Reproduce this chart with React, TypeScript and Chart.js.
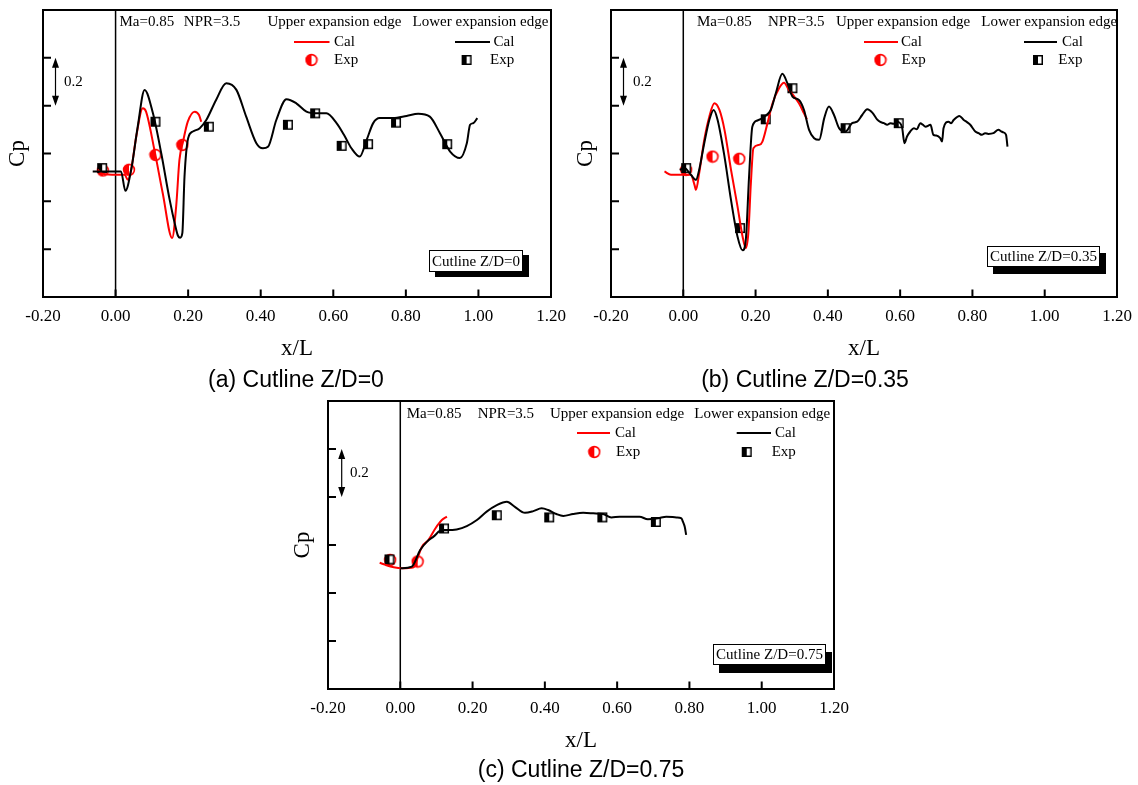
import React, { useEffect, useRef } from "react";
import { Chart, registerables } from "chart.js";

Chart.register(...registerables);

// ---------------- axis ticks ----------------
const X_MIN = -0.2;
const X_MAX = 1.2;
const X_STEP = 0.2;
const Y_TICKS = [-0.6, -0.4, -0.2, 0, 0.2, 0.4, 0.6];

// ---------------- (a) Cutline Z/D=0 ----------------
const aLowerCal: number[][] = [
  [-0.063, -0.075], [0.015, -0.075], [0.027, -0.156], [0.043, -0.068], [0.061, 0.112], [0.080, 0.266],
  [0.103, 0.168], [0.126, 0.0], [0.149, -0.193], [0.165, -0.305], [0.172, -0.344], [0.178, -0.352],
  [0.184, -0.333], [0.190, -0.096], [0.200, 0.064], [0.213, 0.092], [0.232, 0.106], [0.250, 0.140],
  [0.277, 0.224], [0.305, 0.294], [0.333, 0.266], [0.360, 0.154], [0.388, 0.043], [0.406, 0.022],
  [0.420, 0.028], [0.443, 0.140], [0.471, 0.227], [0.498, 0.210], [0.526, 0.175], [0.554, 0.168],
  [0.581, 0.168], [0.609, 0.127], [0.632, 0.071], [0.650, 0.022], [0.673, -0.013], [0.692, 0.057],
  [0.710, 0.127], [0.728, 0.148], [0.765, 0.148], [0.802, 0.157], [0.834, 0.166], [0.866, 0.154],
  [0.894, 0.085], [0.922, 0.008], [0.949, -0.019], [0.968, 0.043], [0.977, 0.120], [0.986, 0.127],
  [0.997, 0.148],
];
const aUpperCal: number[][] = [
  [-0.049, -0.068], [-0.035, -0.085], [0.002, -0.089], [0.025, -0.089], [0.034, -0.110], [0.043, -0.068],
  [0.057, 0.071], [0.075, 0.189], [0.084, 0.175], [0.107, 0.015], [0.130, -0.166], [0.156, -0.353],
  [0.167, -0.221], [0.176, -0.027], [0.186, 0.050], [0.199, 0.133], [0.218, 0.175], [0.230, 0.161],
  [0.236, 0.133],
];
const aUpperExp: number[][] = [[-0.035, -0.071], [0.037, -0.068], [0.110, -0.006], [0.184, 0.036]];
const aLowerExp: number[][] = [
  [-0.037, -0.061], [0.110, 0.133], [0.257, 0.112], [0.475, 0.120], [0.550, 0.168],
  [0.623, 0.032], [0.696, 0.039], [0.773, 0.129], [0.914, 0.039],
];

// ---------------- (b) Cutline Z/D=0.35 ----------------
const bLowerCal: number[][] = [
  [-0.010, -0.068], [0.003, -0.061], [0.021, -0.089], [0.035, -0.110], [0.044, -0.068], [0.058, 0.043],
  [0.072, 0.140], [0.084, 0.182], [0.095, 0.140], [0.114, -0.013], [0.132, -0.194], [0.150, -0.347],
  [0.164, -0.405], [0.173, -0.360], [0.182, -0.096], [0.191, 0.112], [0.205, 0.138], [0.224, 0.154],
  [0.242, 0.182], [0.256, 0.252], [0.274, 0.333], [0.288, 0.294], [0.302, 0.238], [0.320, 0.224],
  [0.334, 0.182], [0.348, 0.099], [0.362, 0.064], [0.376, 0.057], [0.390, 0.148], [0.403, 0.196],
  [0.417, 0.161], [0.431, 0.106], [0.449, 0.092], [0.467, 0.127], [0.481, 0.133], [0.495, 0.161],
  [0.509, 0.185], [0.523, 0.171], [0.536, 0.143], [0.545, 0.132], [0.555, 0.127], [0.564, 0.120],
  [0.573, 0.127], [0.582, 0.124], [0.591, 0.133], [0.605, 0.112], [0.612, 0.043], [0.619, 0.071],
  [0.628, 0.092], [0.638, 0.106], [0.646, 0.101], [0.656, 0.127], [0.663, 0.120], [0.670, 0.112],
  [0.684, 0.120], [0.692, 0.078], [0.700, 0.075], [0.711, 0.064], [0.716, 0.050], [0.720, 0.106],
  [0.734, 0.133], [0.741, 0.127], [0.748, 0.140], [0.764, 0.157], [0.776, 0.140], [0.785, 0.131],
  [0.794, 0.120], [0.808, 0.092], [0.817, 0.085], [0.826, 0.078], [0.835, 0.085], [0.844, 0.082],
  [0.858, 0.085], [0.872, 0.099], [0.880, 0.092], [0.886, 0.088], [0.893, 0.078], [0.897, 0.029],
];
const bUpperCal: number[][] = [
  [-0.052, -0.075], [-0.034, -0.089], [0.003, -0.089], [0.021, -0.089], [0.031, -0.131], [0.035, -0.152],
  [0.044, -0.082], [0.058, 0.057], [0.072, 0.154], [0.086, 0.210], [0.100, 0.182], [0.114, 0.099],
  [0.132, -0.068], [0.150, -0.221], [0.164, -0.347], [0.173, -0.395], [0.180, -0.333], [0.187, -0.124],
  [0.194, 0.022], [0.210, 0.036], [0.219, 0.050], [0.233, 0.127], [0.247, 0.210], [0.265, 0.273],
  [0.279, 0.296], [0.292, 0.266], [0.307, 0.238], [0.320, 0.210], [0.334, 0.168], [0.342, 0.143],
];
const bUpperExp: number[][] = [[0.008, -0.068], [0.081, -0.013], [0.155, -0.022]];
const bLowerExp: number[][] = [
  [0.008, -0.061], [0.157, -0.312], [0.228, 0.143], [0.302, 0.273], [0.449, 0.106], [0.596, 0.127],
];

// ---------------- (c) Cutline Z/D=0.75 ----------------
const cLowerCal: number[][] = [
  [0.000, -0.097], [0.032, -0.090], [0.055, -0.021], [0.074, 0.014], [0.092, 0.035], [0.115, 0.062],
  [0.129, 0.062], [0.156, 0.065], [0.184, 0.079], [0.212, 0.104], [0.239, 0.139], [0.267, 0.166],
  [0.295, 0.180], [0.317, 0.159], [0.345, 0.134], [0.368, 0.141], [0.391, 0.153], [0.409, 0.146],
  [0.432, 0.129], [0.451, 0.121], [0.478, 0.129], [0.506, 0.134], [0.534, 0.132], [0.561, 0.129],
  [0.584, 0.115], [0.607, 0.118], [0.635, 0.118], [0.662, 0.118], [0.685, 0.107], [0.713, 0.111],
  [0.736, 0.118], [0.764, 0.115], [0.778, 0.111], [0.782, 0.097], [0.787, 0.076], [0.791, 0.042],
];
const cUpperCal: number[][] = [
  [-0.057, -0.074], [-0.041, -0.083], [-0.018, -0.093], [0.005, -0.097], [0.037, -0.093], [0.046, -0.062],
  [0.060, -0.007], [0.078, 0.021], [0.097, 0.069], [0.115, 0.104], [0.129, 0.118],
];
const cUpperExp: number[][] = [[-0.028, -0.062], [0.048, -0.069]];
const cLowerExp: number[][] = [
  [-0.030, -0.060], [0.121, 0.069], [0.267, 0.124], [0.412, 0.115], [0.559, 0.115], [0.707, 0.096],
];

// ---------------- text ----------------
const TXT_MA = "Ma=0.85";
const TXT_NPR = "NPR=3.5";
const TXT_UPPER = "Upper expansion edge";
const TXT_LOWER = "Lower expansion edge";
const TXT_CAL = "Cal";
const TXT_EXP = "Exp";
const TXT_X = "x/L";
const TXT_Y = "Cp";
const TXT_SCALE = "0.2";

const RED = "#ff0000";
const SERIF = '"Liberation Serif", "Times New Roman", serif';
const SANS = '"Liberation Sans", Arial, sans-serif';

type Panel = {
  id: string;
  canvas: { left: number; top: number; width: number; height: number };
  frame: { left: number; right: number; top: number; bottom: number };
  lowerCal: number[][];
  upperCal: number[][];
  lowerExp: number[][];
  upperExp: number[][];
  caption: string;
  captionX: number;
  captionY: number;
  cutline: string;
  box: { x: number; y: number; w: number; h: number; dx: number; dy: number };
  legend: {
    rowY: number[];
    maX: number; nprX: number; upperX: number; lowerX: number;
    redLine: number[]; redCalX: number; blackLine: number[]; blackCalX: number;
    redMkX: number; redExpX: number; blackMkX: number; blackExpX: number;
  };
  arrowX: number;
  arrowLabelX: number;
};

const PANELS: Panel[] = [
  {
    id: "a",
    canvas: { left: 0, top: 0, width: 570, height: 395 },
    frame: { left: 43, right: 551, top: 10, bottom: 297 },
    lowerCal: aLowerCal, upperCal: aUpperCal, lowerExp: aLowerExp, upperExp: aUpperExp,
    caption: "(a) Cutline Z/D=0", captionX: 296, captionY: 381,
    cutline: "Cutline Z/D=0",
    box: { x: 429, y: 250, w: 94, h: 22, dx: 6, dy: 5 },
    legend: {
      rowY: [22, 42, 60],
      maX: 119.5, nprX: 183.8, upperX: 267.4, lowerX: 412.6,
      redLine: [294, 329.5], redCalX: 334, blackLine: [455, 490], blackCalX: 493.5,
      redMkX: 311.5, redExpX: 334, blackMkX: 466.6, blackExpX: 490,
    },
    arrowX: 55.5, arrowLabelX: 64,
  },
  {
    id: "b",
    canvas: { left: 570, top: 0, width: 568, height: 395 },
    frame: { left: 611, right: 1117, top: 10, bottom: 297 },
    lowerCal: bLowerCal, upperCal: bUpperCal, lowerExp: bLowerExp, upperExp: bUpperExp,
    caption: "(b) Cutline Z/D=0.35", captionX: 805, captionY: 381,
    cutline: "Cutline Z/D=0.35",
    box: { x: 987, y: 246, w: 113, h: 21, dx: 6, dy: 7 },
    legend: {
      rowY: [22, 42, 60],
      maX: 697, nprX: 768, upperX: 836, lowerX: 981.3,
      redLine: [864, 898], redCalX: 901, blackLine: [1024, 1057], blackCalX: 1062,
      redMkX: 880.5, redExpX: 901.6, blackMkX: 1038, blackExpX: 1058.3,
    },
    arrowX: 623.5, arrowLabelX: 633,
  },
  {
    id: "c",
    canvas: { left: 285, top: 395, width: 570, height: 390 },
    frame: { left: 328, right: 834, top: 401, bottom: 689 },
    lowerCal: cLowerCal, upperCal: cUpperCal, lowerExp: cLowerExp, upperExp: cUpperExp,
    caption: "(c) Cutline Z/D=0.75", captionX: 581, captionY: 771,
    cutline: "Cutline Z/D=0.75",
    box: { x: 713, y: 644, w: 113, h: 21, dx: 6, dy: 8 },
    legend: {
      rowY: [414.5, 433, 452],
      maX: 406.7, nprX: 477.7, upperX: 550, lowerX: 694.3,
      redLine: [577, 610], redCalX: 615, blackLine: [736.7, 771], blackCalX: 775,
      redMkX: 594.3, redExpX: 616, blackMkX: 746.7, blackExpX: 771.7,
    },
    arrowX: 341.7, arrowLabelX: 350,
  },
];

let circleImg: HTMLCanvasElement | null = null;
let squareImg: HTMLCanvasElement | null = null;

function getCircle() {
  if (circleImg) return circleImg;
  const c = document.createElement("canvas");
  c.width = 14; c.height = 14;
  const g = c.getContext("2d")!;
  const cx = 7, cy = 7, r = 5.4;
  g.fillStyle = "#fff";
  g.beginPath(); g.arc(cx, cy, r, 0, Math.PI * 2); g.fill();
  g.fillStyle = RED;
  g.beginPath(); g.moveTo(cx, cy); g.arc(cx, cy, r, Math.PI / 2, Math.PI * 1.5); g.closePath(); g.fill();
  g.strokeStyle = RED; g.lineWidth = 1.6;
  g.beginPath(); g.arc(cx, cy, r, 0, Math.PI * 2); g.stroke();
  circleImg = c;
  return c;
}

function getSquare() {
  if (squareImg) return squareImg;
  const c = document.createElement("canvas");
  c.width = 12; c.height = 12;
  const g = c.getContext("2d")!;
  g.fillStyle = "#fff"; g.fillRect(1, 1, 10, 10);
  g.fillStyle = "#000"; g.fillRect(1, 1, 5, 10);
  g.strokeStyle = "#000"; g.lineWidth = 1.5; g.strokeRect(1.75, 1.75, 8.5, 8.5);
  squareImg = c;
  return c;
}

function toPts(arr: number[][]) {
  return arr.map((p) => ({ x: p[0], y: p[1] }));
}

function fmtTick(v: any) {
  const n = Number(v);
  return (Math.abs(n) < 1e-9 ? 0 : n).toFixed(2);
}

function makeDeco(p: Panel) {
  const ox = p.canvas.left;
  const oy = p.canvas.top;
  const X = (v: number) => v - ox;
  const Y = (v: number) => v - oy;
  return {
    id: "deco" + p.id,
    beforeDatasetsDraw(chart: any) {
      const { ctx, chartArea: ca, scales } = chart;
      const x0 = scales.x.getPixelForValue(0);
      ctx.save();
      ctx.strokeStyle = "#000";
      ctx.lineWidth = 1.5;
      ctx.beginPath();
      ctx.moveTo(x0, ca.top);
      ctx.lineTo(x0, ca.bottom);
      ctx.stroke();
      ctx.restore();
    },
    afterDraw(chart: any) {
      const { ctx, chartArea: ca, scales } = chart;
      const xs = scales.x;
      const ys = scales.y;
      ctx.save();
      // frame
      ctx.strokeStyle = "#000";
      ctx.lineWidth = 2;
      ctx.strokeRect(ca.left, ca.top, ca.right - ca.left, ca.bottom - ca.top);
      // inward ticks
      ctx.lineWidth = 2;
      ctx.beginPath();
      xs.ticks.forEach((t: any) => {
        const px = xs.getPixelForValue(t.value);
        ctx.moveTo(px, ca.bottom);
        ctx.lineTo(px, ca.bottom - 7.5);
      });
      Y_TICKS.forEach((v) => {
        const py = ys.getPixelForValue(v);
        ctx.moveTo(ca.left, py);
        ctx.lineTo(ca.left + 8, py);
      });
      ctx.stroke();

      // axis titles
      ctx.fillStyle = "#000";
      ctx.font = `23px ${SERIF}`;
      ctx.textAlign = "center";
      ctx.textBaseline = "middle";
      ctx.fillText(TXT_X, (ca.left + ca.right) / 2, ca.bottom + 52);
      ctx.save();
      ctx.translate(ca.left - 25, (ca.top + ca.bottom) / 2);
      ctx.rotate(-Math.PI / 2);
      ctx.fillText(TXT_Y, 0, 0);
      ctx.restore();

      // caption
      ctx.font = `23px ${SANS}`;
      ctx.fillText(p.caption, X(p.captionX), Y(p.captionY));

      // scale arrow
      const yA = ys.getPixelForValue(0.4);
      const yB = ys.getPixelForValue(0.2);
      const ax = X(p.arrowX);
      ctx.lineWidth = 1.2;
      ctx.beginPath();
      ctx.moveTo(ax, yA + 6);
      ctx.lineTo(ax, yB - 6);
      ctx.stroke();
      ctx.beginPath();
      ctx.moveTo(ax, yA);
      ctx.lineTo(ax - 3.5, yA + 10);
      ctx.lineTo(ax + 3.5, yA + 10);
      ctx.closePath();
      ctx.moveTo(ax, yB);
      ctx.lineTo(ax - 3.5, yB - 10);
      ctx.lineTo(ax + 3.5, yB - 10);
      ctx.closePath();
      ctx.fill();
      ctx.font = `15px ${SERIF}`;
      ctx.textAlign = "left";
      ctx.fillText(TXT_SCALE, X(p.arrowLabelX), (yA + yB) / 2);

      // legend
      const L = p.legend;
      const r0 = Y(L.rowY[0]);
      const r1 = Y(L.rowY[1]);
      const r2 = Y(L.rowY[2]);
      ctx.fillText(TXT_MA, X(L.maX), r0);
      ctx.fillText(TXT_NPR, X(L.nprX), r0);
      ctx.fillText(TXT_UPPER, X(L.upperX), r0);
      ctx.fillText(TXT_LOWER, X(L.lowerX), r0);
      ctx.fillText(TXT_CAL, X(L.redCalX), r1);
      ctx.fillText(TXT_CAL, X(L.blackCalX), r1);
      ctx.fillText(TXT_EXP, X(L.redExpX), r2);
      ctx.fillText(TXT_EXP, X(L.blackExpX), r2);
      ctx.lineWidth = 2;
      ctx.strokeStyle = RED;
      ctx.beginPath();
      ctx.moveTo(X(L.redLine[0]), r1);
      ctx.lineTo(X(L.redLine[1]), r1);
      ctx.stroke();
      ctx.strokeStyle = "#000";
      ctx.beginPath();
      ctx.moveTo(X(L.blackLine[0]), r1);
      ctx.lineTo(X(L.blackLine[1]), r1);
      ctx.stroke();
      const ci = getCircle();
      const sq = getSquare();
      ctx.drawImage(ci, X(L.redMkX) - ci.width / 2, r2 - ci.height / 2);
      ctx.drawImage(sq, X(L.blackMkX) - sq.width / 2, r2 - sq.height / 2);

      // cutline box
      const b = p.box;
      ctx.fillStyle = "#000";
      ctx.fillRect(X(b.x + b.dx), Y(b.y + b.dy), b.w, b.h);
      ctx.fillStyle = "#fff";
      ctx.fillRect(X(b.x), Y(b.y), b.w, b.h);
      ctx.strokeStyle = "#000";
      ctx.lineWidth = 1;
      ctx.strokeRect(X(b.x) + 0.5, Y(b.y) + 0.5, b.w - 1, b.h - 1);
      ctx.fillStyle = "#000";
      ctx.font = `15px ${SERIF}`;
      ctx.textAlign = "center";
      ctx.fillText(p.cutline, X(b.x + b.w / 2), Y(b.y + b.h / 2) + 1);
      ctx.restore();
    },
  };
}

function PanelChart({ p }: { p: Panel }) {
  const ref = useRef<HTMLCanvasElement>(null);
  useEffect(() => {
    const canvas = ref.current;
    if (!canvas) return;
    const c = p.canvas;
    const f = p.frame;
    const chart = new Chart(canvas, {
      type: "scatter",
      data: {
        datasets: [
          {
            data: toPts(p.lowerCal),
            showLine: true,
            borderColor: "#000",
            borderWidth: 2,
            pointRadius: 0,
            cubicInterpolationMode: "monotone",
          },
          {
            data: toPts(p.upperCal),
            showLine: true,
            borderColor: RED,
            borderWidth: 2,
            pointRadius: 0,
            cubicInterpolationMode: "monotone",
          },
          {
            data: toPts(p.lowerExp),
            showLine: false,
            pointStyle: getSquare(),
            pointRadius: 5,
          },
          {
            data: toPts(p.upperExp),
            showLine: false,
            pointStyle: getCircle(),
            pointRadius: 5,
          },
        ] as any,
      },
      options: {
        responsive: false,
        animation: false,
        devicePixelRatio: 1,
        layout: {
          autoPadding: false,
          padding: {
            left: f.left - c.left,
            top: f.top - c.top,
            right: c.left + c.width - f.right,
            bottom: 0,
          },
        },
        plugins: {
          legend: { display: false },
          tooltip: { enabled: false },
        },
        scales: {
          x: {
            type: "linear",
            min: X_MIN,
            max: X_MAX,
            ticks: {
              stepSize: X_STEP,
              autoSkip: false,
              maxRotation: 0,
              color: "#000",
              padding: 1,
              font: { family: SERIF, size: 17 },
              callback: fmtTick,
            },
            grid: { display: false },
            border: { display: false },
            afterFit: (s: any) => {
              s.height = c.top + c.height - f.bottom;
            },
          },
          y: {
            type: "linear",
            display: false,
            min: Y_TICKS[0],
            max: Y_TICKS[Y_TICKS.length - 1],
          },
        },
      } as any,
      plugins: [makeDeco(p)],
    });
    return () => chart.destroy();
  }, [p]);
  return (
    <canvas
      ref={ref}
      width={p.canvas.width}
      height={p.canvas.height}
      style={{
        position: "absolute",
        left: p.canvas.left,
        top: p.canvas.top,
        width: p.canvas.width,
        height: p.canvas.height,
      }}
    />
  );
}

export default function App() {
  return (
    <div
      style={{
        position: "absolute",
        left: 0,
        top: 0,
        width: 1138,
        height: 785,
        background: "#fff",
        overflow: "hidden",
      }}
    >
      {PANELS.map((p) => (
        <PanelChart key={p.id} p={p} />
      ))}
    </div>
  );
}
